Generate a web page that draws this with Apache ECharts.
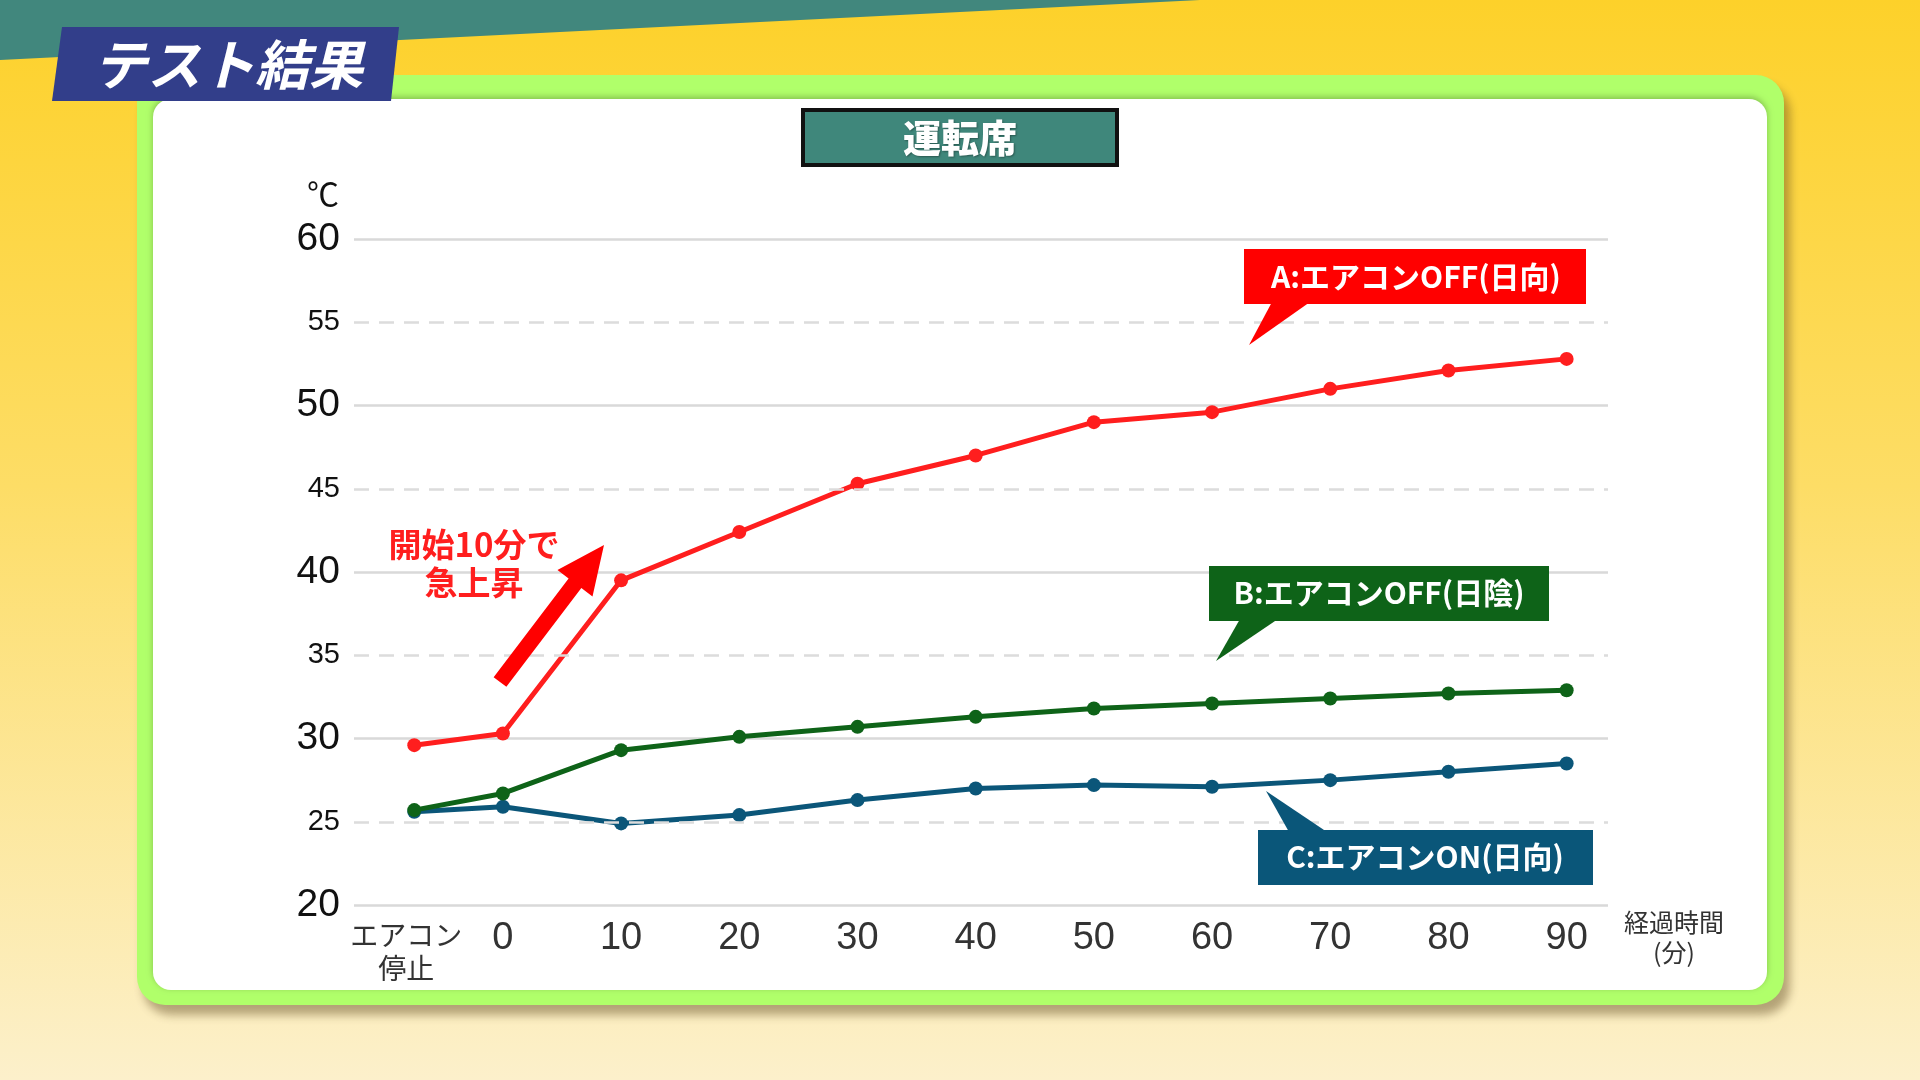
<!DOCTYPE html>
<html>
<head>
<meta charset="utf-8">
<style>html,body{margin:0;padding:0;width:1920px;height:1080px;overflow:hidden;}#c{width:1920px;height:1080px;}</style>
<script src="https://cdn.jsdelivr.net/npm/echarts@6/dist/echarts.min.js"></script>
</head>
<body>
<div id="c"></div>
<script>
// ---- data ----
const timeLabels = ['エアコン\n停止', '0', '10', '20', '30', '40', '50', '60', '70', '80', '90'];
const timeValues = [-7.5, 0, 10, 20, 30, 40, 50, 60, 70, 80, 90];
const seriesA = [29.6, 30.3, 39.5, 42.4, 45.3, 47.0, 49.0, 49.6, 51.0, 52.1, 52.8];
const seriesB = [25.7, 26.7, 29.3, 30.1, 30.7, 31.3, 31.8, 32.1, 32.4, 32.7, 32.9];
const seriesC = [25.6, 25.9, 24.9, 25.4, 26.3, 27.0, 27.2, 27.1, 27.5, 28.0, 28.5];
const seriesNames = ['A:エアコンOFF(日向)', 'B:エアコンOFF(日陰)', 'C:エアコンON(日向)'];
const dashedLevels = [25, 35, 45, 55];

const JP = '"Noto Sans CJK JP", "Noto Sans", sans-serif';
const NUM = '"Liberation Sans", Arial, sans-serif';
const RED = '#FF1E1E', GREEN = '#0E6318', BLUE = '#0B5679';

function pairs(vals) { return timeValues.map((t, i) => [t, vals[i]]); }

function arrow(tail, tip, w, headLen, headW) {
  const dx = tip[0] - tail[0], dy = tip[1] - tail[1];
  const L = Math.hypot(dx, dy);
  const d = [dx / L, dy / L], n = [-d[1], d[0]];
  const base = [tip[0] - d[0] * headLen, tip[1] - d[1] * headLen];
  const p = (o, k) => [o[0] + n[0] * k, o[1] + n[1] * k];
  return [p(tail, w), p(base, w), p(base, headW), tip, p(base, -headW), p(base, -w), p(tail, -w)];
}

const chart = echarts.init(document.getElementById('c'), null, {renderer: 'canvas'});

const graphics = [
  // background
  {type: 'rect', z: -100, silent: true, shape: {x: 0, y: 0, width: 1920, height: 1080},
   style: {fill: new echarts.graphic.LinearGradient(0, 0, 0, 1, [
     {offset: 0, color: '#FDD12A'}, {offset: 0.45, color: '#FDDD66'}, {offset: 1, color: '#FCF0CB'}])}},
  {type: 'polygon', z: -99, silent: true, shape: {points: [[0, 0], [1200, 0], [0, 60]]}, style: {fill: '#41877D'}},
  // panel
  {type: 'rect', z: -90, silent: true, shape: {x: 137, y: 75, width: 1647, height: 930, r: 28},
   style: {fill: '#B0FF6A', shadowBlur: 10, shadowOffsetX: 6, shadowOffsetY: 10, shadowColor: 'rgba(90,70,30,0.45)'}},
  {type: 'rect', z: -89, silent: true, shape: {x: 153, y: 99, width: 1614, height: 891, r: 18},
   style: {fill: '#ffffff', shadowBlur: 6, shadowOffsetY: -2, shadowColor: 'rgba(0,0,0,0.25)'}},
  // title banner
  {type: 'polygon', z: 50, silent: true, shape: {points: [[62, 27], [399, 27], [391, 101], [52, 101]]}, style: {fill: '#323E8A'}},
  {type: 'text', z: 51, silent: true, x: 228, y: 64,
   style: {text: 'テスト結果', fill: '#ffffff', font: 'italic bold 54px ' + JP, align: 'center', verticalAlign: 'middle'}},
  // subtitle
  {type: 'rect', z: 50, silent: true, shape: {x: 803, y: 110, width: 314, height: 55},
   style: {fill: '#3F877B', stroke: '#111111', lineWidth: 4}},
  {type: 'text', z: 51, silent: true, x: 960, y: 138,
   style: {text: '運転席', fill: '#ffffff', font: '900 38px ' + JP, align: 'center', verticalAlign: 'middle',
           textShadowColor: 'rgba(0,0,0,0.35)', textShadowBlur: 2, textShadowOffsetX: 1, textShadowOffsetY: 1}},
  // unit labels
  {type: 'text', z: 51, silent: true, x: 323, y: 194,
   style: {text: '℃', fill: '#111111', font: '32px ' + JP, align: 'center', verticalAlign: 'middle'}},
  {type: 'text', z: 51, silent: true, x: 1674, y: 937,
   style: {text: '経過時間\n(分)', fill: '#333333', font: '25px ' + JP, lineHeight: 30, align: 'center', verticalAlign: 'middle'}},
  // annotation
  {type: 'text', z: 51, silent: true, x: 474, y: 563,
   style: {text: '開始10分で\n急上昇', fill: RED, font: 'bold 33px ' + JP, lineHeight: 38, align: 'center', verticalAlign: 'middle'}},
  {type: 'polygon', z: 51, silent: true, shape: {points: arrow([500, 682], [604, 545], 8, 48, 22)}, style: {fill: '#FF0000'}},
  // callout A
  {type: 'rect', z: 60, silent: true, shape: {x: 1244, y: 249, width: 342, height: 55}, style: {fill: '#FF0000'}},
  {type: 'polygon', z: 60, silent: true, shape: {points: [[1272, 302], [1310, 302], [1249, 345]]}, style: {fill: '#FF0000'}},
  {type: 'text', z: 61, silent: true, x: 1416, y: 277,
   style: {text: seriesNames[0], fill: '#ffffff', font: 'bold 30px ' + JP, align: 'center', verticalAlign: 'middle'}},
  // callout B
  {type: 'rect', z: 60, silent: true, shape: {x: 1209, y: 566, width: 340, height: 55}, style: {fill: '#0E6318'}},
  {type: 'polygon', z: 60, silent: true, shape: {points: [[1240, 619], [1278, 619], [1216, 661]]}, style: {fill: '#0E6318'}},
  {type: 'text', z: 61, silent: true, x: 1379, y: 593,
   style: {text: seriesNames[1], fill: '#ffffff', font: 'bold 30px ' + JP, align: 'center', verticalAlign: 'middle'}},
  // callout C
  {type: 'rect', z: 60, silent: true, shape: {x: 1258, y: 830, width: 335, height: 55}, style: {fill: '#0A5679'}},
  {type: 'polygon', z: 60, silent: true, shape: {points: [[1289, 832], [1327, 832], [1266, 791]]}, style: {fill: '#0A5679'}},
  {type: 'text', z: 61, silent: true, x: 1425, y: 857,
   style: {text: seriesNames[2], fill: '#ffffff', font: 'bold 30px ' + JP, align: 'center', verticalAlign: 'middle'}}
];

const lineSeries = (name, vals, color) => ({
  name: name, type: 'line', data: pairs(vals), z: 3,
  symbol: 'circle', symbolSize: 14, showSymbol: true,
  lineStyle: {color: color, width: 5},
  itemStyle: {color: color}
});

chart.setOption({
  animation: false,
  backgroundColor: 'transparent',
  grid: {left: 354, right: 312, top: 239, bottom: 175, containLabel: false},
  graphic: graphics,
  xAxis: {
    type: 'value', min: -12.6, max: 93.5,
    axisLine: {show: false}, axisTick: {show: false}, splitLine: {show: false},
    axisLabel: {
      customValues: timeValues, margin: 14, verticalAlign: 'top',
      formatter: function (v) {
        const i = timeValues.indexOf(v);
        if (i < 0) return '';
        return i === 0 ? '{s|' + timeLabels[0] + '}' : '{n|' + timeLabels[i] + '}';
      },
      rich: {
        s: {fontSize: 28, lineHeight: 33, color: '#333333', fontFamily: JP, align: 'center', padding: [0, 16, 0, 0]},
        n: {fontSize: 38, lineHeight: 40, color: '#333333', fontFamily: NUM}
      }
    }
  },
  yAxis: {
    type: 'value', min: 20, max: 60, interval: 5,
    axisLine: {show: false}, axisTick: {show: false},
    splitLine: {show: true, lineStyle: {color: ['#D9D9D9', 'rgba(0,0,0,0)'], width: 2.5}},
    axisLabel: {
      margin: 14,
      formatter: function (v) { return (v % 10 === 0 ? '{b|' : '{s|') + v + '}'; },
      rich: {
        b: {fontSize: 39, color: '#111111', fontFamily: NUM},
        s: {fontSize: 29, color: '#111111', fontFamily: NUM}
      }
    }
  },
  series: [
    {
      name: 'grid-dash', type: 'line', data: [], z: 1, silent: true,
      markLine: {
        silent: true, symbol: 'none', label: {show: false}, animation: false,
        lineStyle: {color: '#DCDCDC', width: 2.5, type: [15, 10]},
        data: dashedLevels.map(v => ({yAxis: v}))
      }
    },
    lineSeries(seriesNames[2], seriesC, BLUE),
    lineSeries(seriesNames[1], seriesB, GREEN),
    lineSeries(seriesNames[0], seriesA, RED)
  ]
});
</script>
</body>
</html>
